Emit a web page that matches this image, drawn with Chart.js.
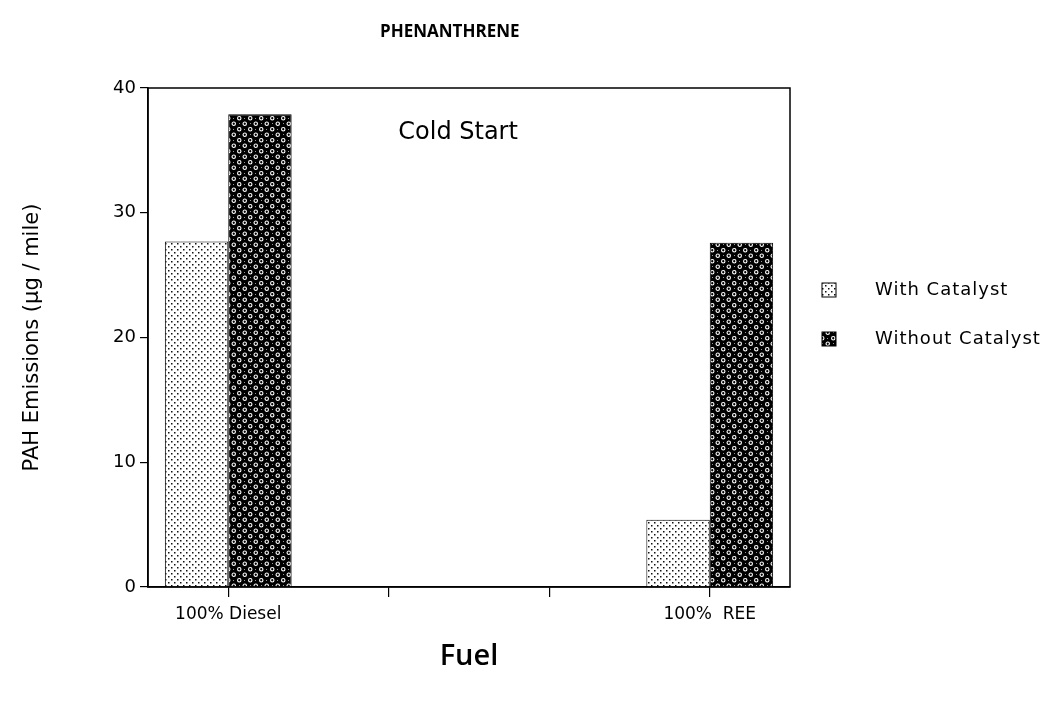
<!DOCTYPE html>
<html>
<head>
<meta charset="utf-8">
<script src="https://cdn.jsdelivr.net/npm/chart.js@4/dist/chart.umd.min.js"></script>
<style>
  html, body { margin: 0; padding: 0; background: #fff; }
  #wrap { width: 1052px; height: 704px; }
</style>
</head>
<body>
<div id="wrap"><canvas id="pahChart" width="1052" height="704"></canvas></div>
<script>
// fuels on the x axis (two empty slots between them, as in the original)
const fuels = ['100% Diesel', '', '', '100%  REE'];
const withCatalyst = [27.7, null, null, 5.4];
const withoutCatalyst = [37.9, null, null, 27.6];
const yTicks = [0, 10, 20, 30, 40];

const FONT = "'DejaVu Sans', 'Open Sans', sans-serif";

// light stipple for "with catalyst"
function dotPattern() {
  const c = document.createElement('canvas');
  c.width = 6; c.height = 6;
  const g = c.getContext('2d');
  g.fillStyle = '#fff';
  g.fillRect(0, 0, 6, 6);
  g.fillStyle = '#111';
  g.fillRect(0, 0, 1.5, 1.5);
  g.fillRect(3, 3, 1.5, 1.5);
  return g.createPattern(c, 'repeat');
}

// dark hatch with white rings for "without catalyst"
function ringPattern() {
  const c = document.createElement('canvas');
  c.width = 11; c.height = 11;
  const g = c.getContext('2d');
  g.fillStyle = '#000';
  g.fillRect(0, 0, 11, 11);
  g.strokeStyle = '#fff';
  g.lineWidth = 1.1;
  g.beginPath(); g.arc(2.75, 2.75, 1.7, 0, Math.PI * 2); g.stroke();
  g.beginPath(); g.arc(8.25, 8.25, 1.7, 0, Math.PI * 2); g.stroke();
  g.fillStyle = '#999';
  g.fillRect(8, 2, 1, 1);
  g.fillRect(2, 8, 1, 1);
  return g.createPattern(c, 'repeat');
}

const fillWith = dotPattern();
const fillWithout = ringPattern();

const extras = {
  id: 'extras',
  afterDraw(chart) {
    const { ctx, chartArea: a } = chart;
    ctx.save();
    // frame around plot
    ctx.strokeStyle = '#000';
    ctx.lineWidth = 1.5;
    ctx.strokeRect(a.left, a.top, a.right - a.left, a.bottom - a.top);
    // title
    ctx.fillStyle = '#000';
    ctx.textAlign = 'center';
    ctx.textBaseline = 'middle';
    ctx.font = 'bold 17px "Open Sans", sans-serif';
    ctx.fillText('PHENANTHRENE', a.left + (a.right - a.left) * 0.47, 32);
    // annotation
    ctx.font = '24px ' + FONT;
    ctx.fillText('Cold Start', a.left + (a.right - a.left) * 0.483, a.top + 45);
    // legend
    const items = [
      { text: 'With Catalyst', fill: fillWith },
      { text: 'Without Catalyst', fill: fillWithout }
    ];
    ctx.textAlign = 'left';
    ctx.font = '18px ' + FONT;
    ctx.letterSpacing = '1px';
    items.forEach((it, i) => {
      const y = 290 + i * 49;
      ctx.fillStyle = it.fill;
      ctx.fillRect(a.right + 32, y - 7, 14, 14);
      ctx.strokeStyle = '#000';
      ctx.lineWidth = 1;
      ctx.strokeRect(a.right + 32, y - 7, 14, 14);
      ctx.fillStyle = '#000';
      ctx.fillText(it.text, a.right + 85, y);
    });
    ctx.restore();
  }
};

new Chart(document.getElementById('pahChart').getContext('2d'), {
  type: 'bar',
  data: {
    labels: fuels,
    datasets: [{
      label: 'With Catalyst',
      data: withCatalyst,
      backgroundColor: fillWith,
      borderColor: '#000',
      borderWidth: 1,
      barPercentage: 1,
      categoryPercentage: 0.79
    }, {
      label: 'Without Catalyst',
      data: withoutCatalyst,
      backgroundColor: fillWithout,
      borderColor: '#000',
      borderWidth: 1,
      barPercentage: 1,
      categoryPercentage: 0.79
    }]
  },
  options: {
    responsive: false,
    animation: false,
    layout: { padding: { top: 88, right: 262, left: 0, bottom: 0 } },
    plugins: {
      legend: { display: false },
      title: { display: false },
      tooltip: { enabled: false }
    },
    scales: {
      x: {
        afterFit: s => { s.height = 117; },
        grid: { display: true, offset: false, drawOnChartArea: false, drawTicks: true, tickLength: 10, color: '#000', lineWidth: 1.2 },
        border: { display: true, color: '#000', width: 1.5 },
        ticks: { color: '#000', font: { family: FONT, size: 17 }, padding: 7, maxRotation: 0, autoSkip: false },
        title: { display: true, text: 'Fuel', color: '#000', font: { family: "'Open Sans', sans-serif", size: 29, weight: '600' }, padding: { top: 0, bottom: 30 } }
      },
      y: {
        min: 0,
        max: 40,
        afterFit: s => { s.width = 148; },
        afterBuildTicks: s => { s.ticks = yTicks.map(v => ({ value: v })); },
        grid: { display: true, drawOnChartArea: false, drawTicks: true, tickLength: 8, color: '#000', lineWidth: 1.2 },
        border: { display: true, color: '#000', width: 1.5 },
        ticks: { color: '#000', font: { family: FONT, size: 18 }, padding: 4 },
        title: { display: true, text: 'PAH Emissions (\u00b5g / mile)', color: '#000', font: { family: FONT, size: 21 }, padding: { top: 20, bottom: 0 } }
      }
    }
  },
  plugins: [extras]
});
</script>
</body>
</html>
